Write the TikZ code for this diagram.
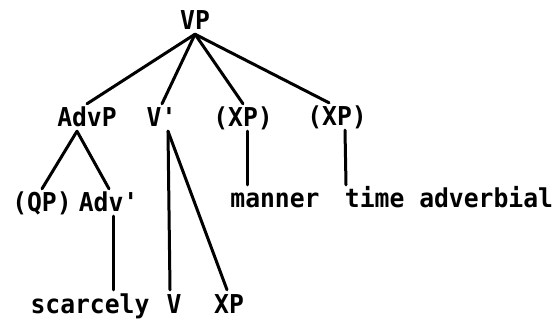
\documentclass[tikz,border=0pt]{standalone}
\usepackage{fontspec}
\newfontfamily\treefont[FakeStretch=0.95]{DejaVu Sans Mono Bold}

\begin{document}
\begin{tikzpicture}[x=1pt, y=-1pt,
    cat/.style={font=\treefont\fontsize{26}{26}\selectfont, inner xsep=0pt,
      inner ysep=4pt, text height=19pt, text depth=0pt, anchor=base},
    branch/.style={line width=3pt, line cap=round}]
  \useasboundingbox (0,0) rectangle (557,323);
  % categories, row by row
  \node[cat] (vp) at (195,30) {VP};
  \node[cat] (advp) at (87,127) {AdvP};
  \node[cat] (vbar) at (162,127) {V\textquotesingle};
  \node[cat] (xpa) at (243,127) {(XP)};
  \node[cat] (xpb) at (337,126) {(XP)};
  \node[cat] (qp) at (42,212) {(QP)};
  \node[cat] (advbar) at (109,212) {Adv\textquotesingle};
  \node[cat] (manner) at (275,208) {manner};
  \node[cat] (time) at (449,208) {time adverbial};
  \node[cat] (adv) at (90,313) {scarcely};
  \node[cat] (v) at (174,313) {V};
  \node[cat] (xp) at (229,313) {XP};
  % branches
  \draw[branch] (vp.south) -- (advp.north);
  \draw[branch] (vp.south) -- (vbar.north);
  \draw[branch] (vp.south) -- (xpa.north);
  \draw[branch] (vp.south) -- ([xshift=-8pt]xpb.north);
  \draw[branch] ([xshift=-10pt]advp.south) -- (qp.north);
  \draw[branch] ([xshift=-10pt]advp.south) -- (advbar.north);
  \draw[branch] ([xshift=6pt]vbar.south) -- ([xshift=-4pt]v.north);
  \draw[branch] ([xshift=6pt]vbar.south) -- ([xshift=-2pt]xp.north);
  \draw[branch] ([xshift=4pt]xpa.south) -- ([xshift=4pt]xpa.south |- manner.north);
  \draw[branch] ([xshift=8pt]xpb.south) -- ([xshift=9pt]xpb.south |- time.north);
  \draw[branch] ([xshift=4pt]advbar.south) -- ([xshift=4pt]advbar.south |- adv.north);
\end{tikzpicture}
\end{document}
